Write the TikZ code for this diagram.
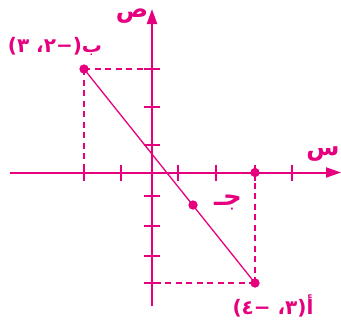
\documentclass[tikz,border=0pt]{standalone}
\usepackage{fontspec}
\usetikzlibrary{arrows.meta}
\newfontfamily\arabicfont[Script=Arabic]{DejaVu Sans}
\TeXXeTstate=1
\definecolor{mag}{RGB}{230,0,126}
\begin{document}
\begin{tikzpicture}[x=1pt,y=-1pt,
  axis/.style={draw=mag,line width=2pt,-{Triangle[length=15pt,width=10pt]}},
  tickmark/.style={draw=mag,line width=1.4pt},
  seg/.style={draw=mag,line width=1.3pt},
  guide/.style={draw=mag,line width=1.2pt,dash pattern=on 6pt off 4.5pt},
  dot/.style={circle,fill=mag,inner sep=0pt,minimum size=9pt},
  lab/.style={text=mag,font=\arabicfont\bfseries\fontsize{20}{24}\selectfont,inner sep=0pt},
  axlab/.style={text=mag,font=\arabicfont\bfseries\fontsize{24}{28}\selectfont,inner sep=0pt}]
\useasboundingbox (0,0) rectangle (341,322);
% origin and axis ends
\coordinate (O) at (152,172.5);
\coordinate (xL) at (10,172.5);
\coordinate (xR) at (341,172.5);
\coordinate (yB) at (152,306);
\coordinate (yT) at (152,9);
% points
\node[dot] (B) at (84,69) {};
\node[dot] (A) at (255,283) {};
\node[dot] (C) at (193,205) {};
\node[dot] (P) at (255,172.5) {};
% guides
\draw[guide] (B.center) -- (B.center -| O);
\draw[guide] (B.center) -- (B.center |- O);
\draw[guide] (A.center) -- (A.center -| O);
\draw[guide] (A.center) -- (P.center);
% axes
\draw[axis] (xL) -- (xR);
\draw[axis] (yB) -- (yT);
% ticks
\foreach \x in {84,121,178,216,255,292}
  \draw[tickmark] (\x,164.5) -- (\x,180.5);
\foreach \y in {69,107,145,196,226,256,283}
  \draw[tickmark] (144,\y) -- (160,\y);
% segment
\draw[seg] (B.center) -- (A.center);
\node[dot] at (B.center) {};
\node[dot] at (A.center) {};
\node[dot] at (C.center) {};
\node[dot] at (P.center) {};
% labels
\node[axlab] (ly) at (132,16) {\beginR ص\endR};
\node[axlab] (lx) at (323,154) {\beginR س\endR};
\node[lab] (lB) at (55,46) {\beginR ب(−٢، ٣)\endR};
\node[lab] (lA) at (273,306) {\beginR أ(٣، −٤)\endR};
\node[lab,font=\arabicfont\bfseries\fontsize{26}{30}\selectfont] (lC) at (228,202) {\beginR جـ\endR};
\end{tikzpicture}
\end{document}
